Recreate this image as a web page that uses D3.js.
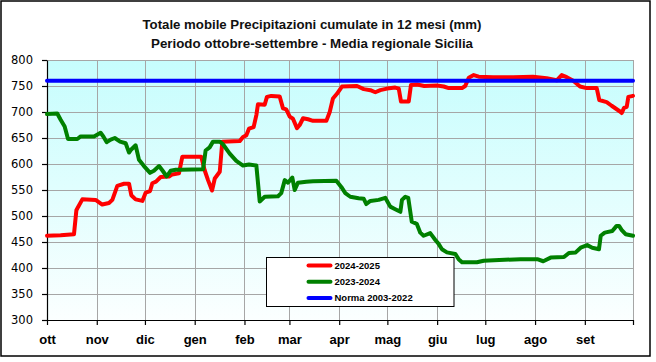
<!DOCTYPE html>
<html>
<head>
<meta charset="utf-8">
<script src="https://cdn.jsdelivr.net/npm/d3@7"></script>
<style>
	body { margin: 0; background: #fff; }
	svg { display: block; }
</style>
</head>
<body>
<div id="vis"></div>
<script>
// DATA
let titleLines = [
	'Totale mobile Precipitazioni cumulate in 12 mesi (mm)',
	'Periodo ottobre-settembre - Media regionale Sicilia'
];
let monthStarts = [0, 31, 61, 92, 123, 151, 182, 212, 243, 273, 304, 335, 365];
let monthLabels = ['ott', 'nov', 'dic', 'gen', 'feb', 'mar', 'apr', 'mag', 'giu', 'lug', 'ago', 'set'];
let yTicks = [300, 350, 400, 450, 500, 550, 600, 650, 700, 750, 800];
let seriesNames = ['2024-2025', '2023-2024', 'Norma 2003-2022'];
let normValue = 760;

// days since 1 Oct
let days2425 = [0, 8.5, 16.8, 18.3, 19.3, 22, 30.3, 34.4, 38.6, 40.7, 43.8, 48, 51.1, 52.5, 55.2, 59.4, 61.5, 64.2, 65.6, 67.9, 70.8, 76, 78, 82.2, 84.3, 96.1, 98.2, 100.3, 102.8, 104.5, 107.6, 109.2, 120, 122.1, 124.1, 125.8, 128.7, 130.4, 131.4, 135.6, 137, 139.7, 144.9, 147, 149, 151.2, 153.2, 155.7, 157.4, 159.5, 162.6, 165.7, 174, 176.1, 178.1, 180.6, 183.7, 193.1, 197.3, 201.4, 204.5, 207.6, 211.8, 216.9, 219.1, 220.5, 225.3, 226.7, 230.5, 235, 242.9, 247.1, 250.2, 258.5, 260.5, 262.7, 265.8, 268.9, 277.8, 290.3, 302.7, 311.2, 317.5, 320.6, 323.7, 327.8, 332, 336.2, 342.4, 344, 348.6, 351.7, 356.9, 358, 359.4, 361.1, 362.1, 365];
let rain2425 = [462, 463, 465, 511, 517, 532, 531, 522, 525, 531, 558, 562, 562, 540, 532, 529, 545, 548, 563, 566, 575, 576, 580, 582, 614, 614, 588, 569, 549, 572, 585, 643, 644, 652, 655, 668, 671, 694, 715, 714, 729, 731, 730, 707, 705, 691, 687, 669, 675, 688, 686, 683, 683, 700, 726, 735, 749, 750, 744, 742, 738, 742, 745, 747, 745, 720, 720, 752, 753, 750, 751, 749, 746, 746, 750, 766, 771, 768, 767, 767, 768, 765, 761, 771, 767, 760, 749, 746, 746, 723, 719, 712, 701, 698, 708, 710, 729, 731];

let days2324 = [0, 6.4, 8.5, 11, 13.1, 18.9, 21, 29.3, 33.4, 35.1, 37.2, 39.7, 42.2, 45.5, 49, 51.1, 52.5, 55.2, 57.3, 60.4, 64.2, 66.6, 69.8, 71.8, 74.6, 77, 80.2, 83.3, 97.2, 98.8, 101.3, 103.4, 107.6, 109.6, 113.8, 117.9, 122.1, 125.8, 130.4, 132.5, 135.6, 143.9, 145.9, 148.1, 150.1, 152.8, 154.3, 156.3, 161.5, 165.7, 180.2, 183.3, 185.8, 188.9, 194.1, 197.3, 198.9, 201.4, 206.6, 210.7, 213.8, 216.9, 220.1, 221.1, 223.2, 225, 227.2, 230.3, 232.5, 234.6, 238.7, 241.9, 244, 246, 249.1, 254.3, 256.4, 258.5, 267.8, 272, 278.4, 295, 305.4, 309.1, 313.7, 322, 325.1, 329.3, 332.4, 336.5, 339.6, 343.8, 344.9, 347.4, 352.1, 354.8, 356.3, 358, 360.4, 365];
let rain2324 = [696, 697, 685, 672, 648, 648, 653, 653, 660, 653, 642, 647, 650, 643, 640, 622, 628, 636, 608, 596, 583, 587, 596, 588, 576, 587, 589, 589, 590, 626, 632, 643, 643, 638, 620, 606, 597, 599, 597, 528, 537, 538, 544, 569, 564, 574, 550, 564, 566, 567, 568, 556, 544, 537, 534, 533, 523, 529, 531, 535, 518, 513, 508, 531, 537, 535, 489, 485, 468, 462, 467, 454, 446, 436, 430, 427, 417, 411, 411, 414, 415, 417, 417, 413, 420, 421, 429, 430, 439, 444, 439, 436, 462, 468, 471, 481, 481, 473, 465, 462];

let chart = () => {
	// PARAMETERS
	let width = 656,
		height = 362,
		plot = { left: 47, right: 633, top: 60, bottom: 320 },
		colors = ['#ff0000', '#008000', '#0000ff'];

	let series = [
		days2425.map((d, i) => [d, rain2425[i]]),
		days2324.map((d, i) => [d, rain2324[i]]),
		d3.extent(monthStarts).map(d => [d, normValue])
	];

	// SCALES
	let x = d3
			.scaleLinear()
			.domain(d3.extent(monthStarts))
			.range([plot.left, plot.right]),
		y = d3
			.scaleLinear()
			.domain(d3.extent(yTicks))
			.range([plot.bottom, plot.top]);

	// SVG
	let svg = d3
		.select('#vis')
		.append('svg')
		.attr('width', width)
		.attr('height', height);

	let grad = svg
		.append('defs')
		.append('linearGradient')
		.attr('id', 'bg')
		.attr('x1', 0)
		.attr('y1', 0)
		.attr('x2', 0)
		.attr('y2', 1);
	grad.append('stop').attr('offset', '0%').attr('stop-color', '#c6fdfd');
	grad.append('stop').attr('offset', '100%').attr('stop-color', '#fbffff');

	// FRAME
	svg
		.append('rect')
		.attr('x', 1)
		.attr('y', 1)
		.attr('width', 649)
		.attr('height', 355)
		.attr('fill', '#fff')
		.attr('stroke', '#000')
		.attr('stroke-width', 1.5);

	// PLOT BACKGROUND
	svg
		.append('rect')
		.attr('x', plot.left)
		.attr('y', plot.top)
		.attr('width', plot.right - plot.left)
		.attr('height', plot.bottom - plot.top)
		.attr('fill', 'url(#bg)');

	// GRID
	svg
		.append('g')
		.selectAll('line')
		.data(yTicks)
		.enter()
		.append('line')
		.attr('x1', plot.left)
		.attr('x2', plot.right)
		.attr('y1', d => Math.round(y(d)) + 0.5)
		.attr('y2', d => Math.round(y(d)) + 0.5)
		.attr('stroke', '#a6a6a6');
	svg
		.append('g')
		.selectAll('line')
		.data(monthStarts)
		.enter()
		.append('line')
		.attr('x1', d => Math.round(x(d)) + 0.5)
		.attr('x2', d => Math.round(x(d)) + 0.5)
		.attr('y1', plot.top)
		.attr('y2', plot.bottom)
		.attr('stroke', '#a6a6a6');

	// AXES
	let xAxis = d3
			.axisBottom(x)
			.tickValues(monthStarts)
			.tickSize(5)
			.tickSizeOuter(0)
			.tickFormat((d, i) => monthLabels[i] || ''),
		yAxis = d3
			.axisLeft(y)
			.tickValues(yTicks)
			.tickSize(5)
			.tickSizeOuter(0)
			.tickPadding(9);

	let gx = svg
		.append('g')
		.attr('transform', `translate(0, ${plot.bottom})`)
		.call(xAxis);
	gx.selectAll('text')
		.attr('y', 15)
		.attr('dy', '0.71em')
		.attr('font-family', 'Liberation Sans, Arial, sans-serif')
		.attr('font-weight', 'bold')
		.attr('font-size', '13px')
		.attr('fill', '#000');

	let gy = svg
		.append('g')
		.attr('transform', `translate(${plot.left}, 0)`)
		.call(yAxis);
	gy.selectAll('text')
		.attr('font-family', 'DejaVu Sans, Verdana, sans-serif')
		.attr('font-size', '11.5px')
		.attr('fill', '#000');

	svg.selectAll('.domain, .tick line').attr('stroke', '#000').attr('stroke-width', 1.2);

	// LINES
	let line = d3
		.line()
		.x(d => x(d[0]))
		.y(d => y(d[1]));

	svg
		.append('g')
		.selectAll('path')
		.data(series)
		.enter()
		.append('path')
		.attr('d', line)
		.attr('fill', 'none')
		.attr('stroke', (d, i) => colors[i])
		.attr('stroke-width', 4)
		.attr('stroke-linejoin', 'round')
		.attr('stroke-linecap', 'round');

	// TITLE
	svg
		.append('g')
		.selectAll('text')
		.data(titleLines)
		.enter()
		.append('text')
		.attr('x', 312)
		.attr('y', (d, i) => 29 + i * 18.5)
		.attr('text-anchor', 'middle')
		.attr('font-family', 'Liberation Sans, Arial, sans-serif')
		.attr('font-weight', 'bold')
		.attr('font-size', '12px')
		.attr('fill', '#111')
		.attr('textLength', (d, i) => (i === 0 ? 339 : 322))
		.attr('lengthAdjust', 'spacingAndGlyphs')
		.text(d => d);

	// LEGEND
	let legend = svg.append('g').attr('transform', 'translate(266.5, 257.5)');

	legend
		.append('rect')
		.attr('width', 187.5)
		.attr('height', 49)
		.attr('fill', '#fff')
		.attr('stroke', '#000')
		.attr('stroke-width', 1);

	let item = legend
		.selectAll('.item')
		.data(seriesNames)
		.enter()
		.append('g')
		.attr('class', 'item')
		.attr('transform', (d, i) => `translate(0, ${8 + i * 16.2})`);

	item
		.append('line')
		.attr('x1', 42)
		.attr('x2', 64)
		.attr('stroke', (d, i) => colors[i])
		.attr('stroke-width', 4)
		.attr('stroke-linecap', 'round');

	item
		.append('text')
		.attr('x', 68)
		.attr('dy', '0.35em')
		.attr('font-family', 'Liberation Sans, Arial, sans-serif')
		.attr('font-weight', 'bold')
		.attr('font-size', '9.5px')
		.attr('fill', '#000')
		.text(d => d);
};

// INIT
chart();
</script>
</body>
</html>
